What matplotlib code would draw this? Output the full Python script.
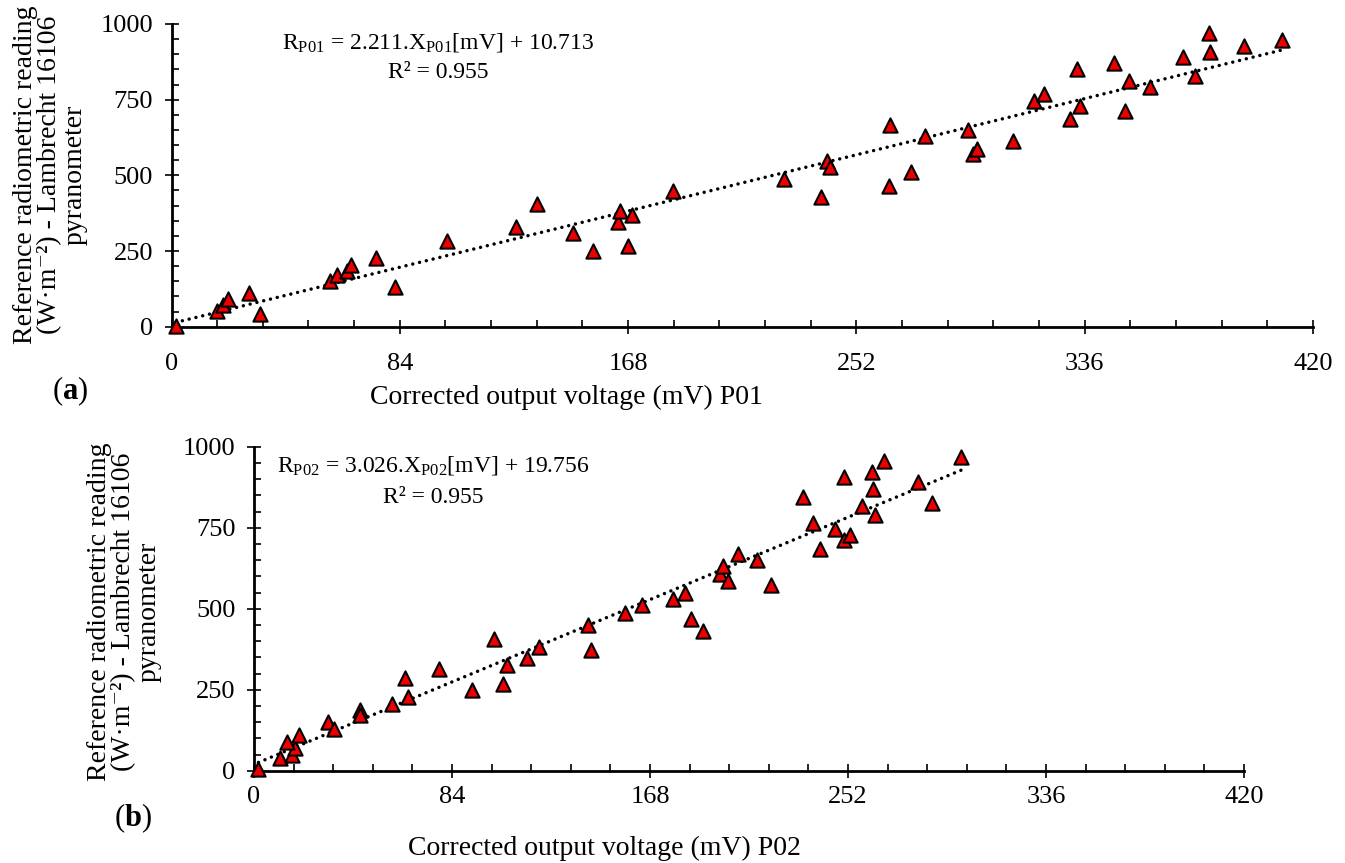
import matplotlib.pyplot as plt
from matplotlib.ticker import MultipleLocator

plt.rcParams['font.family'] = ['Liberation Serif', 'DejaVu Serif']
plt.rcParams['mathtext.fontset'] = 'custom'
plt.rcParams['mathtext.rm'] = 'Liberation Serif'
plt.rcParams['mathtext.it'] = 'Liberation Serif:italic'
plt.rcParams['mathtext.bf'] = 'Liberation Serif:bold'

# panel (a) - P01
x_p01 = [1.5, 16.6, 19.0, 20.7, 28.6, 32.4, 58.5, 61.0, 64.5, 66.0, 75.1, 82.2,
         101.3, 126.7, 134.6, 147.6, 155.0, 164.3, 164.9, 169.4, 168.0, 184.4,
         225.5, 238.8, 241.0, 242.3, 264.1, 264.4, 272.0, 277.3, 293.2, 294.8, 296.2,
         309.6, 317.4, 321.2, 330.7, 333.3, 334.4, 346.7, 350.9, 352.4, 359.9,
         372.0, 376.6, 381.7, 382.2, 394.7, 408.6]
y_p01 = [3, 52, 72, 90, 110, 41, 151, 170, 185, 204, 226, 130,
         284, 328, 405, 311, 250, 347, 383, 369, 268, 449,
         488, 427, 547, 526, 465, 667, 510, 629, 650, 570, 588,
         612, 747, 769, 686, 850, 728, 870, 712, 813, 791,
         891, 828, 971, 908, 927, 946]

# panel (b) - P02
x_p02 = [1.9, 11.2, 16.1, 17.2, 13.8, 19.2, 31.4, 33.9, 44.8, 45.0,
         58.7, 63.9, 65.4, 78.3, 92.6, 101.8, 105.7, 107.5, 115.8, 120.9,
         141.5, 142.9, 157.6, 164.6, 177.7, 183.0, 185.2, 190.3, 197.7, 199.0,
         201.0, 205.2, 213.6, 219.3, 232.8, 237.2, 240.1, 246.4, 250.3,
         252.9, 250.3, 258.1, 262.3, 262.8, 263.3, 267.4, 281.8, 287.6, 300.0]
y_p02 = [4, 40, 50, 71, 90, 110, 151, 128, 187, 172,
         205, 285, 226, 313, 249, 406, 267, 327, 347, 381,
         450, 372, 488, 510, 529, 547, 467, 430, 607, 632,
         587, 668, 649, 572, 846, 765, 684, 746, 712,
         726, 905, 817, 923, 868, 789, 956, 890, 827, 969]

# trendline coefficients (from the equations)
slope_p01, icpt_p01 = 2.211, 10.713
slope_p02, icpt_p02 = 3.026, 19.756

W, H = 1345, 863
fig = plt.figure(figsize=(W / 100, H / 100), dpi=100)
ax1 = fig.add_axes([171.5 / W, 1 - 326.7 / H, 1141.5 / W, 302.7 / H])
ax2 = fig.add_axes([254 / W, 1 - 770.7 / H, 990 / W, 324 / H])


def fx(px):
    return px / W


def fy(py):
    return 1 - py / H


def style(ax, pad):
    ax.set_xlim(0, 420)
    ax.set_ylim(0, 1000)
    ax.xaxis.set_major_locator(MultipleLocator(84))
    ax.xaxis.set_minor_locator(MultipleLocator(16.8))
    ax.yaxis.set_major_locator(MultipleLocator(250))
    ax.yaxis.set_minor_locator(MultipleLocator(50))
    for s in ['top', 'right']:
        ax.spines[s].set_visible(False)
    for s in ['left', 'bottom']:
        ax.spines[s].set_linewidth(2)
    ax.tick_params(which='major', direction='inout', length=10.5, width=1.2,
                   labelsize=19)
    ax.tick_params(which='minor', direction='in', length=5, width=1.2)
    ax.tick_params(axis='x', which='major', pad=pad)
    ax.tick_params(axis='y', which='major', pad=8)


def draw(ax, xs, ys, slope, icpt):
    ax.scatter(xs, ys, marker='^', s=105, color='#ee0000', edgecolors='black',
               linewidths=1.5, zorder=4, clip_on=False)
    x0, x1 = min(xs), max(xs)
    ax.plot([x0, x1], [slope * x0 + icpt, slope * x1 + icpt], color='black',
            lw=2.5, ls=(0, (0.01, 2.0)), dash_capstyle='round', zorder=3)


draw(ax1, x_p01, y_p01, slope_p01, icpt_p01)
draw(ax2, x_p02, y_p02, slope_p02, icpt_p02)
style(ax1, 14)
style(ax2, 6)

ylab = 'Reference radiometric reading\n(W·m⁻²) - Lambrecht 16106\npyranometer'
fig.text(fx(50), fy(175), ylab, rotation=90, ha='center', va='center',
         multialignment='center', fontsize=20, linespacing=0.98)
fig.text(fx(124), fy(612), ylab, rotation=90, ha='center', va='center',
         multialignment='center', fontsize=20, linespacing=0.98)

fig.text(fx(566), fy(397), 'Corrected output voltage (mV) P01', ha='center',
         va='center', fontsize=20)
fig.text(fx(604), fy(848), 'Corrected output voltage (mV) P02', ha='center',
         va='center', fontsize=20)

fig.text(fx(70), fy(391), r'($\mathbf{a}$)', ha='center', va='center', fontsize=22)
fig.text(fx(133), fy(818), r'($\mathbf{b}$)', ha='center', va='center', fontsize=22)

fig.text(fx(438), fy(43), r'R$_{\mathrm{P01}}$ = 2.211.X$_{\mathrm{P01}}$[mV] + 10.713',
         ha='center', va='center', fontsize=17)
fig.text(fx(438), fy(73), 'R² = 0.955', ha='center', va='center', fontsize=17)
fig.text(fx(433), fy(465), r'R$_{\mathrm{P02}}$ = 3.026.X$_{\mathrm{P02}}$[mV] + 19.756',
         ha='center', va='center', fontsize=17)
fig.text(fx(433), fy(497), 'R² = 0.955', ha='center', va='center', fontsize=17)

plt.savefig('out.png', dpi=100)
plt.close()
